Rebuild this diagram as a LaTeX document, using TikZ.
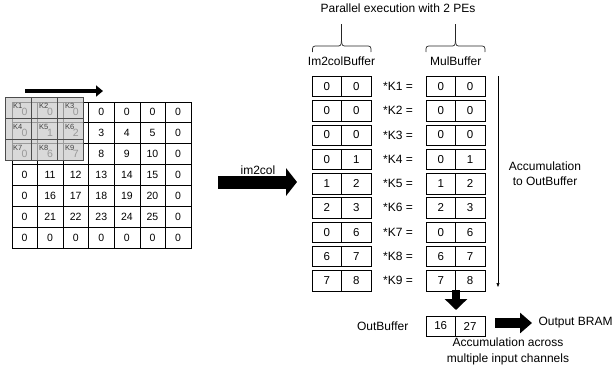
\documentclass[tikz,border=0pt]{standalone}
\usepackage{fontspec}
\setmainfont{Liberation Sans}
\usetikzlibrary{arrows.meta,positioning}

\begin{document}
\begin{tikzpicture}[x=1pt, y=-1pt,
    every node/.style={font=\fontsize{12}{15}\selectfont},
    gridcell/.style={draw, minimum width=25.6pt, minimum height=20.9pt, inner sep=0pt, font=\fontsize{10.5}{12}\selectfont},
    kercell/.style={draw=black!70, fill=black!20, fill opacity=0.75, minimum width=26pt, minimum height=21pt, inner sep=0pt},
    kerlab/.style={anchor=north west, inner sep=0pt, text=black!75, font=\fontsize{7.5}{8}\selectfont},
    bufcell/.style={draw, minimum width=29.4pt, minimum height=20.4pt, inner sep=0pt, font=\fontsize{11.5}{13}\selectfont},
    fatarrow/.style={line width=#1, -{Triangle[length=11pt, width=2.1*#1]}},
    pebrace/.style={line width=0.7pt, black!85}
]
    \useasboundingbox (0,0) rectangle (613,368);

    % Input feature map (padded 7x7)
    \foreach \vals [count=\r] in {{0,0,0,0,0,0,0},{0,1,2,3,4,5,0},{0,6,7,8,9,10,0},
        {0,11,12,13,14,15,0},{0,16,17,18,19,20,0},{0,21,22,23,24,25,0},{0,0,0,0,0,0,0}}
        \foreach \v [count=\c] in \vals
            \node[gridcell] (g\r-\c) at ({11.7+25.6*(\c-0.5)}, {101.7+20.9*(\r-0.5)}) {\v};

    % Sliding 3x3 kernel
    \foreach \k [count=\i from 0] in {1,...,9} {
        \pgfmathtruncatemacro{\kc}{mod(\i,3)}
        \pgfmathtruncatemacro{\kr}{int(\i/3)}
        \node[kercell] (k\k) at ({5+26*(\kc+0.5)}, {97+21*(\kr+0.5)}) {};
        \node[kerlab] (klab\k) at ([shift={(8,6)}]k\k.north west) {K\k};
    }

    % Sliding direction
    \coordinate (slide start) at (25,91);
    \coordinate (slide end) at (103,91);
    \draw[line width=4pt, -{Triangle[length=7pt, width=11pt]}] (slide start) -- (slide end);

    % im2col step
    \coordinate (im2col start) at (218,182);
    \coordinate (im2col end) at (297,182);
    \draw[fatarrow=13pt] (im2col start) -- (im2col end);
    \node (im2col lab) at (258,170) {im2col};

    % Buffers of the two PEs
    \node (title) at (398,8) {Parallel execution with 2 PEs};
    \node (im head) at (341.5,61) {Im2colBuffer};
    \node (mul head) at (455.7,61) {MulBuffer};
    \draw[pebrace] (312.5,52) .. controls (312.5,46) .. (318,46) -- (336,46)
        .. controls (341,46) .. (341.5,40) -- (341.5,24);
    \draw[pebrace] (341.5,40) .. controls (342,46) .. (347,46) -- (365.5,46)
        .. controls (371,46) .. (371,52);
    \draw[pebrace] (426,52) .. controls (426,46) .. (431.5,46) -- (450,46)
        .. controls (455,46) .. (455.5,40) -- (455.5,24);
    \draw[pebrace] (455.5,40) .. controls (456,46) .. (461,46) -- (479.5,46)
        .. controls (485,46) .. (485,52);

    \foreach \a/\b [count=\r] in {0/0,0/0,0/0,0/1,1/2,2/3,0/6,6/7,7/8} {
        \node[bufcell] (im\r a) at (326.8, {86.3+24.3*(\r-1)}) {\a};
        \node[bufcell] (im\r b) at (356.2, {86.3+24.3*(\r-1)}) {\b};
        \node (kop\r) at (398, {86.3+24.3*(\r-1)}) {*K\r\ =};
        \node[bufcell] (mul\r a) at (440.7, {86.3+24.3*(\r-1)}) {\a};
        \node[bufcell] (mul\r b) at (470.1, {86.3+24.3*(\r-1)}) {\b};
    }

    % Accumulation
    \coordinate (acc top) at (498,76);
    \coordinate (acc bot) at (498,287);
    \draw[line width=0.6pt, -{Triangle[length=4pt, width=3pt]}] (acc top) -- (acc bot);
    \node[align=center] (acc lab) at (545,173.5) {Accumulation\\to OutBuffer};

    % Output buffer
    \coordinate (down start) at (456,290);
    \coordinate (down end) at (456,310);
    \draw[line width=8pt, -{Triangle[length=11pt, width=22pt]}] (down start) -- (down end);
    \node[bufcell] (out a) at (440.7,326) {16};
    \node[bufcell] (out b) at (470.1,326) {27};
    \node[left=14pt of out a] (out lab) {OutBuffer};

    \coordinate (bram start) at (495,323);
    \coordinate (bram end) at (532,323);
    \draw[line width=10pt, -{Triangle[length=12pt, width=20pt]}] (bram start) -- (bram end);
    \node[anchor=west] (bram lab) at (535,323) {Output BRAM};
    \node[align=center, font=\fontsize{12}{16.5}\selectfont] (chan lab) at (508,351.5) {Accumulation across\\multiple input channels};
\end{tikzpicture}
\end{document}
